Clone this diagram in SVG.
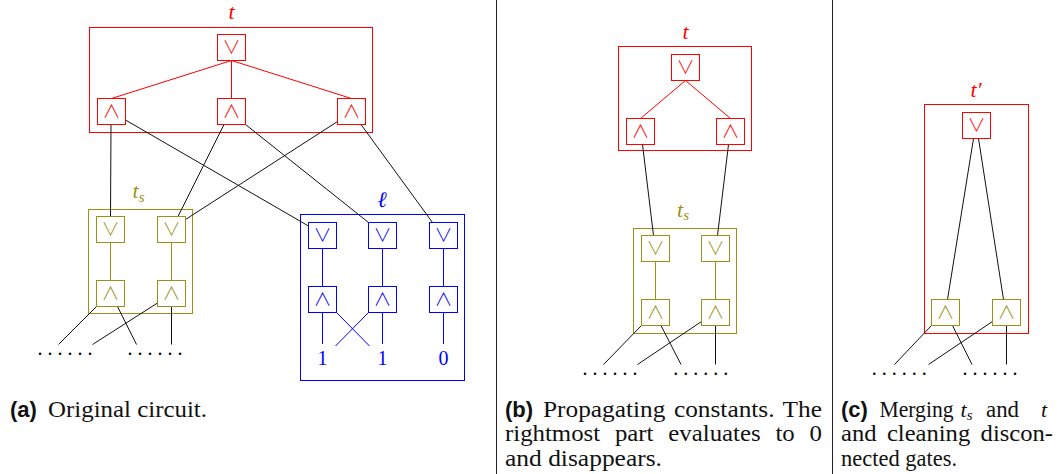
<svg xmlns="http://www.w3.org/2000/svg" width="1061" height="474" viewBox="0 0 1061 474">
<style>
.red{stroke:#ff0000;fill:none;stroke-width:1}
.olv{stroke:#999214;fill:none;stroke-width:1}
.blu{stroke:#0000ff;fill:none;stroke-width:1}
.blk{stroke:#111;fill:none;stroke-width:1}
.gate rect{fill:#fff;stroke-width:1}
.gr rect{stroke:#ff0000}.gr text{fill:#ff0000}
.go rect{stroke:#999214}.go text{fill:#999214}
.gb rect{stroke:#0000ff}.gb text{fill:#0000ff}
.sym{font-family:"Noto Sans CJK JP","Noto Sans CJK SC",sans-serif;font-weight:300;font-size:18px;text-anchor:middle}
.math{font-family:"Liberation Serif","DejaVu Serif",serif;font-style:italic;font-size:22px}
.num{font-family:"Liberation Serif",serif;font-size:20px;text-anchor:middle;fill:#0000ff}
.dots{font-family:"Liberation Serif",serif;font-size:20px;letter-spacing:5px;fill:#000}
.cap{font-family:"Liberation Serif",serif;font-size:23px;fill:#111}
.lab{font-family:"Liberation Sans",sans-serif;font-weight:bold;font-size:22px;fill:#111}
</style>

<g id="separators">
<line x1="496.5" y1="0" x2="496.5" y2="474" stroke="#222" stroke-width="1"/>
<line x1="832.5" y1="0" x2="832.5" y2="474" stroke="#222" stroke-width="1"/>
</g>

<!-- ============ Panel (a) ============ -->
<g id="a-box-t"><rect class="red" x="89.5" y="27.5" width="283" height="105"/><text class="math" x="231.5" y="18.5" text-anchor="middle" fill="#ff0000">t</text></g>
<g id="a-box-ts"><rect class="olv" x="88.5" y="209.5" width="104" height="104"/><text class="math" x="132.5" y="198" fill="#999214">t<tspan font-size="15" dy="3.5">s</tspan></text></g>
<g id="a-box-l"><rect class="blu" x="300.5" y="214.5" width="164" height="166"/><text class="math" x="382" y="206.5" text-anchor="middle" fill="#0000ff">ℓ</text></g>

<g id="a-connectors">
<g class="red">
<line x1="231.5" y1="60.5" x2="111.5" y2="98.5"/>
<line x1="231.5" y1="60.5" x2="231.5" y2="98.5"/>
<line x1="231.5" y1="60.5" x2="351.5" y2="98.5"/>
</g>
<g class="blk">
<line x1="111" y1="124.5" x2="110.5" y2="216.5"/>
<line x1="125.5" y1="120" x2="308.5" y2="226"/>
<line x1="224" y1="124.5" x2="178" y2="216.5"/>
<line x1="245.5" y1="124.5" x2="368.5" y2="222.5"/>
<line x1="337.5" y1="121.5" x2="185.5" y2="219.5"/>
<line x1="361" y1="124.5" x2="432.5" y2="222.5"/>
<line x1="96.5" y1="306.5" x2="58.5" y2="344.5"/>
<line x1="117.5" y1="306.5" x2="136.5" y2="344.5"/>
<line x1="157.5" y1="303" x2="92.5" y2="344.5"/>
<line x1="171.5" y1="306.5" x2="171.5" y2="344.5"/>
</g>
<g class="olv">
<line x1="110.5" y1="242.5" x2="110.5" y2="280.5"/>
<line x1="171.5" y1="242.5" x2="171.5" y2="280.5"/>
</g>
<g class="blu">
<line x1="322.5" y1="248.5" x2="322.5" y2="286.5"/>
<line x1="382.5" y1="248.5" x2="382.5" y2="286.5"/>
<line x1="443.5" y1="248.5" x2="443.5" y2="286.5"/>
<line x1="322.5" y1="312.5" x2="322.5" y2="344"/>
<line x1="382.5" y1="312.5" x2="382.5" y2="344"/>
<line x1="443.5" y1="312.5" x2="443.5" y2="344"/>
<line x1="336.5" y1="312.5" x2="369.5" y2="346"/>
<line x1="368.5" y1="312.5" x2="335.5" y2="346"/>
</g>
</g>

<g id="a-t-or" class="gate gr"><rect x="217.5" y="34.5" width="28" height="26"/><text class="sym" x="231.5" y="54">∨</text></g>
<g id="a-t-and1" class="gate gr"><rect x="97.5" y="98.5" width="28" height="26"/><text class="sym" x="111.5" y="118">∧</text></g>
<g id="a-t-and2" class="gate gr"><rect x="217.5" y="98.5" width="28" height="26"/><text class="sym" x="231.5" y="118">∧</text></g>
<g id="a-t-and3" class="gate gr"><rect x="337.5" y="98.5" width="28" height="26"/><text class="sym" x="351.5" y="118">∧</text></g>

<g id="a-ts-or1" class="gate go"><rect x="96.5" y="216.5" width="28" height="26"/><text class="sym" x="110.5" y="236">∨</text></g>
<g id="a-ts-or2" class="gate go"><rect x="157.5" y="216.5" width="28" height="26"/><text class="sym" x="171.5" y="236">∨</text></g>
<g id="a-ts-and1" class="gate go"><rect x="96.5" y="280.5" width="28" height="26"/><text class="sym" x="110.5" y="300">∧</text></g>
<g id="a-ts-and2" class="gate go"><rect x="157.5" y="280.5" width="28" height="26"/><text class="sym" x="171.5" y="300">∧</text></g>

<g id="a-l-or1" class="gate gb"><rect x="308.5" y="222.5" width="28" height="26"/><text class="sym" x="322.5" y="242">∨</text></g>
<g id="a-l-or2" class="gate gb"><rect x="368.5" y="222.5" width="28" height="26"/><text class="sym" x="382.5" y="242">∨</text></g>
<g id="a-l-or3" class="gate gb"><rect x="429.5" y="222.5" width="28" height="26"/><text class="sym" x="443.5" y="242">∨</text></g>
<g id="a-l-and1" class="gate gb"><rect x="308.5" y="286.5" width="28" height="26"/><text class="sym" x="322.5" y="306">∧</text></g>
<g id="a-l-and2" class="gate gb"><rect x="368.5" y="286.5" width="28" height="26"/><text class="sym" x="382.5" y="306">∧</text></g>
<g id="a-l-and3" class="gate gb"><rect x="429.5" y="286.5" width="28" height="26"/><text class="sym" x="443.5" y="306">∧</text></g>

<g id="a-consts">
<text class="num" x="322.5" y="365">1</text>
<text class="num" x="382.5" y="365">1</text>
<text class="num" x="443.5" y="365">0</text>
</g>
<g id="a-dots">
<text class="dots" x="37.5" y="355">......</text>
<text class="dots" x="127.5" y="355">......</text>
</g>
<g id="a-caption">
<text class="lab" x="10" y="416.5">(a)</text>
<text class="cap" x="48" y="416.5" textLength="159" lengthAdjust="spacingAndGlyphs">Original circuit.</text>
</g>

<!-- ============ Panel (b) ============ -->
<g id="b-box-t"><rect class="red" x="618.5" y="46.5" width="133" height="104"/><text class="math" x="685.5" y="39.3" text-anchor="middle" fill="#ff0000">t</text></g>
<g id="b-box-ts"><rect class="olv" x="633.5" y="228.5" width="103" height="105"/><text class="math" x="677" y="216.7" fill="#999214">t<tspan font-size="15" dy="3.5">s</tspan></text></g>

<g id="b-connectors">
<g class="red">
<line x1="685.5" y1="80.5" x2="640.5" y2="118.5"/>
<line x1="685.5" y1="80.5" x2="730.5" y2="118.5"/>
</g>
<g class="blk">
<line x1="642.5" y1="144.5" x2="653.5" y2="235.5"/>
<line x1="728.5" y1="144.5" x2="717.5" y2="235.5"/>
<line x1="641.5" y1="325.5" x2="603.5" y2="364.5"/>
<line x1="661" y1="325.5" x2="681" y2="364.5"/>
<line x1="701.5" y1="321.5" x2="637.5" y2="364.5"/>
<line x1="715.5" y1="325.5" x2="715.5" y2="364.5"/>
</g>
<g class="olv">
<line x1="655.5" y1="261.5" x2="655.5" y2="299.5"/>
<line x1="715.5" y1="261.5" x2="715.5" y2="299.5"/>
</g>
</g>

<g id="b-t-or" class="gate gr"><rect x="671.5" y="54.5" width="28" height="26"/><text class="sym" x="685.5" y="74">∨</text></g>
<g id="b-t-and1" class="gate gr"><rect x="626.5" y="118.5" width="28" height="26"/><text class="sym" x="640.5" y="138">∧</text></g>
<g id="b-t-and2" class="gate gr"><rect x="716.5" y="118.5" width="28" height="26"/><text class="sym" x="730.5" y="138">∧</text></g>
<g id="b-ts-or1" class="gate go"><rect x="641.5" y="235.5" width="28" height="26"/><text class="sym" x="655.5" y="255">∨</text></g>
<g id="b-ts-or2" class="gate go"><rect x="701.5" y="235.5" width="28" height="26"/><text class="sym" x="715.5" y="255">∨</text></g>
<g id="b-ts-and1" class="gate go"><rect x="641.5" y="299.5" width="28" height="26"/><text class="sym" x="655.5" y="319">∧</text></g>
<g id="b-ts-and2" class="gate go"><rect x="701.5" y="299.5" width="28" height="26"/><text class="sym" x="715.5" y="319">∧</text></g>

<g id="b-dots">
<text class="dots" x="582.5" y="374.5">......</text>
<text class="dots" x="673.2" y="374.5">......</text>
</g>
<g id="b-caption">
<text class="lab" x="505" y="416.5">(b)</text>
<text class="cap" x="543" y="416.5" word-spacing="2" textLength="279" lengthAdjust="spacingAndGlyphs">Propagating constants. The</text>
<text class="cap" x="505" y="441" word-spacing="8" textLength="317" lengthAdjust="spacingAndGlyphs">rightmost part evaluates to 0</text>
<text class="cap" x="505" y="465.5" textLength="157" lengthAdjust="spacingAndGlyphs">and disappears.</text>
</g>

<!-- ============ Panel (c) ============ -->
<g id="c-box-t"><rect class="red" x="924.5" y="104.5" width="104" height="229"/><text class="math" x="976" y="97.3" text-anchor="middle" fill="#ff0000">t′</text></g>

<g id="c-connectors">
<g class="blk">
<line x1="973.5" y1="138.5" x2="947.5" y2="299.5"/>
<line x1="978.5" y1="138.5" x2="1003.5" y2="299.5"/>
<line x1="931.5" y1="325.5" x2="894.5" y2="364.5"/>
<line x1="952.5" y1="325.5" x2="972" y2="364.5"/>
<line x1="992.5" y1="321.5" x2="928.5" y2="364.5"/>
<line x1="1006.5" y1="325.5" x2="1006.5" y2="364.5"/>
</g>
</g>

<g id="c-or" class="gate gr"><rect x="962.5" y="112.5" width="28" height="26"/><text class="sym" x="976.5" y="132">∨</text></g>
<g id="c-and1" class="gate go"><rect x="931.5" y="299.5" width="28" height="26"/><text class="sym" x="945.5" y="319">∧</text></g>
<g id="c-and2" class="gate go"><rect x="992.5" y="299.5" width="28" height="26"/><text class="sym" x="1006.5" y="319">∧</text></g>

<g id="c-dots">
<text class="dots" x="871.8" y="375">......</text>
<text class="dots" x="962.5" y="375">......</text>
</g>
<g id="c-caption">
<text class="lab" x="841" y="416.5">(c)</text>
<text class="cap" x="879.5" y="416.5" textLength="74" lengthAdjust="spacingAndGlyphs">Merging</text>
<text class="math" x="960.5" y="416.5" fill="#111">t<tspan font-size="15" dy="3.5">s</tspan></text>
<text class="cap" x="986" y="416.5" textLength="33" lengthAdjust="spacingAndGlyphs">and</text>
<text class="math" x="1041" y="416.5" fill="#111">t</text>
<text class="cap" x="841" y="441" word-spacing="4" textLength="212" lengthAdjust="spacingAndGlyphs">and cleaning discon-</text>
<text class="cap" x="841" y="465.5" textLength="116" lengthAdjust="spacingAndGlyphs">nected gates.</text>
</g>
</svg>
